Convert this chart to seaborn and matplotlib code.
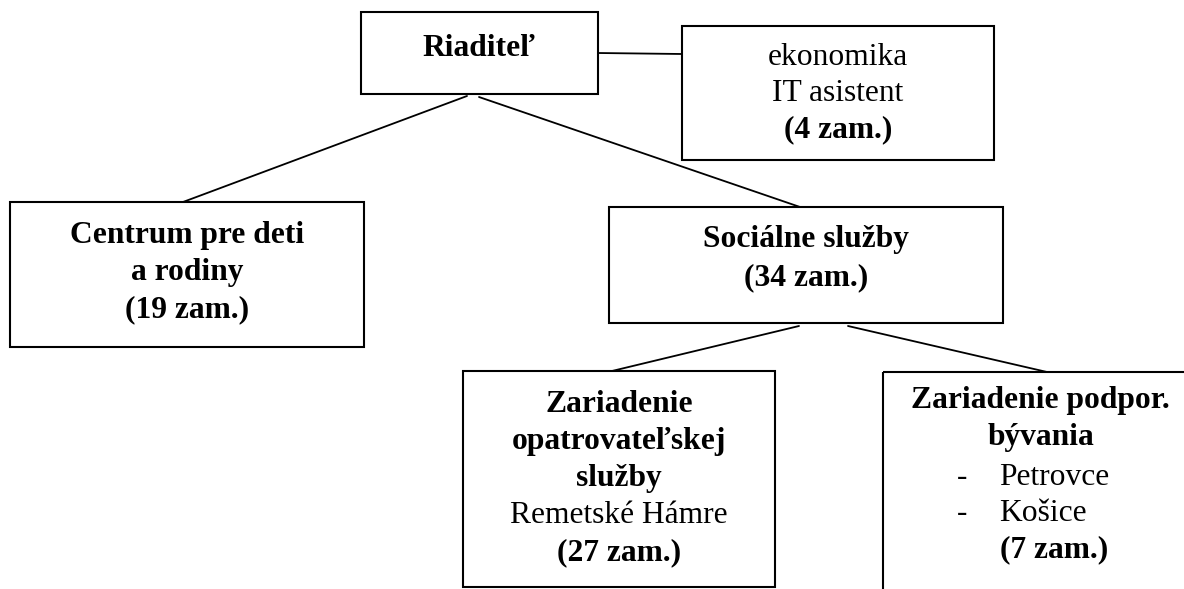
import matplotlib
matplotlib.use("Agg")
import matplotlib.pyplot as plt
import matplotlib.patches as patches
import seaborn as sns

# org units and head counts (zam. = zamestnanci)
units = ["Riaditeľ", "ekonomika", "Centrum pre deti a rodiny", "Sociálne služby",
         "Zariadenie opatrovateľskej služby", "Zariadenie podpor. bývania"]
employees = [None, 4, 19, 34, 27, 7]
parents = [None, 0, 0, 0, 3, 3]
locations_zos = ["Remetské Hámre"]
locations_zpb = ["Petrovce", "Košice"]

# layout in pixels: left, top, right, bottom
boxes = [(361, 12, 598, 94), (682, 26, 994, 160), (10, 202, 364, 347),
         (609, 207, 1003, 323), (463, 371, 775, 587), (883, 372, 1195, 600)]
# connector end points (from parent side, to child side)
links = [((598, 53), (682, 54)), ((467, 96), (183, 202)), ((479, 97), (800, 207)),
         ((799, 326), (612, 371)), ((848, 326), (1047, 372))]

sns.set_theme(style="white")
plt.rcParams['font.family'] = ['Liberation Serif', 'DejaVu Serif']

fig = plt.figure(figsize=(11.84, 5.89), dpi=100)
ax = fig.add_axes([0, 0, 1, 1])
ax.set_xlim(0, 1184)
ax.set_ylim(589, 0)
ax.axis('off')

for (l, t, r, b) in boxes:
    ax.add_patch(patches.Rectangle((l, t), r - l, b - t, fill=False,
                                   edgecolor='black', linewidth=1.5))

for (p0, p1) in links:
    sns.lineplot(x=[p0[0], p1[0]], y=[p0[1], p1[1]], ax=ax, color='black',
                 linewidth=1.3, sort=False, estimator=None)

fs = 22.7


def line(x, y, s, bold=False, ha='center'):
    ax.text(x, y, s, fontsize=fs, ha=ha, va='baseline',
            fontweight='bold' if bold else 'normal', color='black')


def zam(n):
    return f"({n} zam.)"


# Riaditeľ
line(479, 56, units[0], bold=True)

# ekonomika / IT asistent
line(838, 65, units[1])
line(838, 101, "IT asistent")
line(838, 137, zam(employees[1]), bold=True)

# Centrum pre deti a rodiny
line(187, 243, "Centrum pre deti", bold=True)
line(187, 280, "a rodiny", bold=True)
line(187, 317, zam(employees[2]), bold=True)

# Sociálne služby
line(806, 247, units[3], bold=True)
line(806, 285, zam(employees[3]), bold=True)

# Zariadenie opatrovateľskej služby
line(619, 412, "Zariadenie", bold=True)
line(619, 449, "opatrovateľskej", bold=True)
line(619, 486, "služby", bold=True)
line(619, 523, locations_zos[0])
line(619, 560, zam(employees[4]), bold=True)

# Zariadenie podpor. bývania
line(1040, 408, "Zariadenie podpor.", bold=True)
line(1041, 445, "bývania", bold=True)
for i, loc in enumerate(locations_zpb):
    y = 485 + i * 36
    line(957, y, "-", ha='left')
    line(999, y, loc, ha='left')
line(1054, 557, zam(employees[5]), bold=True)

fig.savefig("out.png", dpi=100)
